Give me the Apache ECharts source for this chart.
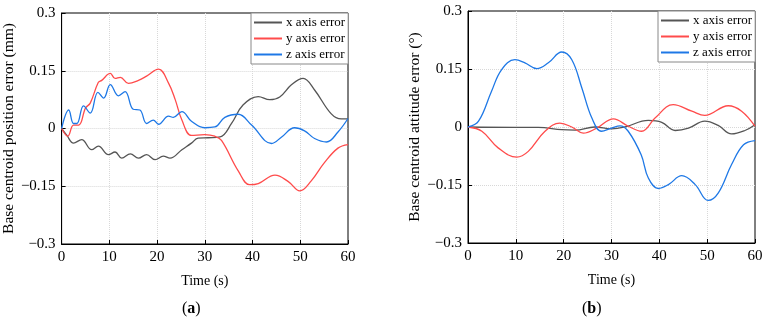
<!DOCTYPE html>
<html>
<head>
<meta charset="utf-8">
<script src="https://cdn.jsdelivr.net/npm/echarts@6/dist/echarts.min.js"></script>
<style>
  html, body { margin: 0; padding: 0; background: #fff; }
  #chart { width: 767px; height: 326px; }
</style>
</head>
<body>
<div id="chart"></div>
<script>
  // (a) base centroid position error (mm)
  const posXTime = [0, 1.1, 2.5, 4.2, 6.3, 7.7, 9.8, 11.2, 12.6, 14.4, 16.1, 17.8, 19.6, 21.3, 22.7, 25.2, 27.2, 28.6, 30.7, 33.2, 35.6, 38, 41.2, 43.6, 45.7, 48.2, 50.6, 53, 56.5, 58.6, 60];
  const posXErr = [0, -0.018, -0.038, -0.029, -0.055, -0.046, -0.068, -0.061, -0.077, -0.066, -0.077, -0.068, -0.081, -0.072, -0.077, -0.055, -0.038, -0.025, -0.024, -0.022, 0.013, 0.061, 0.083, 0.075, 0.082, 0.114, 0.13, 0.1, 0.038, 0.025, 0.025];
  const posYTime = [0, 1.3, 2.5, 3.6, 5, 6, 7.7, 8.4, 10.2, 11.2, 12.3, 14, 16.1, 17.8, 20.3, 22.4, 23.8, 25.2, 27.2, 30, 32.1, 33.5, 37, 39.4, 41.2, 44.7, 47.5, 49.9, 52.3, 55.1, 57.9, 60];
  const posYErr = [0, -0.02, 0.009, 0.009, 0.053, 0.066, 0.12, 0.125, 0.143, 0.13, 0.133, 0.117, 0.125, 0.136, 0.154, 0.118, 0.075, 0.022, -0.018, -0.016, -0.02, -0.031, -0.11, -0.146, -0.143, -0.121, -0.138, -0.162, -0.136, -0.088, -0.051, -0.042];
  const posZTime = [0, 1.5, 2.5, 3.2, 4.6, 6, 7.6, 8.8, 10.2, 11.9, 13.3, 15, 16.4, 17.8, 19.2, 20.3, 22.4, 23.4, 25.2, 27.2, 30, 32.1, 34.2, 37, 39.8, 44, 46.1, 48.8, 50.9, 53, 55.5, 57.9, 60];
  const posZErr = [0, 0.048, 0.013, 0.013, 0.059, 0.04, 0.094, 0.079, 0.114, 0.085, 0.096, 0.05, 0.048, 0.013, 0.022, 0.011, 0.032, 0.029, 0.044, 0.019, 0.002, 0.004, 0.029, 0.037, 0.009, -0.039, -0.022, 0.002, -0.006, -0.026, -0.035, -0.009, 0.026];

  // (b) base centroid attitude error (deg)
  const attXTime = [0, 9.8, 14.7, 19.6, 22.4, 26.5, 30, 32.8, 37.7, 40.5, 43.3, 46.1, 49.5, 52.3, 55.1, 57.9, 60];
  const attXErr = [0, -0.001, -0.001, -0.007, -0.008, 0, -0.005, 0, 0.017, 0.012, -0.009, -0.003, 0.015, 0.004, -0.018, -0.009, 0.006];
  const attYTime = [0, 2.9, 6.3, 10.2, 12.6, 16.1, 19.2, 21.7, 24.1, 26.9, 30.4, 33.5, 36.3, 39.1, 42.9, 46.8, 49.5, 54.4, 57.2, 60];
  const attYErr = [0, -0.011, -0.054, -0.078, -0.063, -0.011, 0.01, 0, -0.016, -0.003, 0.021, 0.002, -0.011, 0.023, 0.058, 0.041, 0.03, 0.055, 0.041, 0.002];
  const attZTime = [0, 2.2, 4.9, 7, 9.8, 11.9, 14.4, 16.8, 19.6, 21.7, 23.8, 25.9, 27.9, 30, 31.8, 33.5, 36.2, 37.7, 39.8, 41.9, 44.7, 47.5, 50.2, 52.3, 55.1, 57.6, 60];
  const attZErr = [0, 0.015, 0.092, 0.148, 0.174, 0.166, 0.151, 0.166, 0.194, 0.174, 0.101, 0.023, -0.011, -0.003, 0.003, -0.011, -0.072, -0.132, -0.159, -0.149, -0.126, -0.149, -0.19, -0.171, -0.097, -0.046, -0.035];

  const seriesNames = ['x axis error', 'y axis error', 'z axis error'];
  const timeTicks = [0, 10, 20, 30, 40, 50, 60];
  const errTicks = [-0.3, -0.15, 0, 0.15, 0.3];
  const yNames = ['Base centroid position error (mm)', 'Base centroid attitude error (\u00b0)'];

  const FONT = 'Liberation Serif';
  const colors = ['#555555', '#ff4b4b', '#1e78e6'];

  function pairs(ts, vs) {
    return ts.map(function (t, i) { return [t, vs[i]]; });
  }

  let myChart = echarts.init(document.getElementById('chart'));

  function xAxisOf(idx) {
    return {
      type: 'value',
      gridIndex: idx,
      min: timeTicks[0],
      max: timeTicks[timeTicks.length - 1],
      interval: timeTicks[1] - timeTicks[0],
      name: 'Time (s)',
      nameLocation: 'middle',
      nameGap: 30,
      nameTextStyle: { color: '#000', fontFamily: FONT, fontSize: 14 },
      axisLine: { onZero: false, lineStyle: { color: '#000', width: 1 } },
      axisTick: { inside: true, length: 4, lineStyle: { color: '#000' } },
      axisLabel: { color: '#000', fontFamily: FONT, fontSize: 15, margin: 6 },
      splitLine: { show: true, showMinLine: false, showMaxLine: false, lineStyle: { color: '#d8d8d8', type: 'dotted' } }
    };
  }

  function yAxisOf(idx) {
    return {
      type: 'value',
      gridIndex: idx,
      min: errTicks[0],
      max: errTicks[errTicks.length - 1],
      interval: errTicks[1] - errTicks[0],
      name: yNames[idx],
      nameLocation: 'middle',
      nameGap: 42,
      nameTextStyle: { color: '#000', fontFamily: FONT, fontSize: 15.5 },
      axisLine: { onZero: false, lineStyle: { color: '#000', width: 1 } },
      axisTick: { inside: true, length: 4, lineStyle: { color: '#000' } },
      axisLabel: {
        color: '#000', fontFamily: FONT, fontSize: 15, margin: 6,
        formatter: function (v) {
          let r = Math.round(v * 100) / 100;
          return r < 0 ? '\u2212' + Math.abs(r) : String(r);
        }
      },
      splitLine: { show: true, showMinLine: false, showMaxLine: false, lineStyle: { color: '#d8d8d8', type: 'dotted' } }
    };
  }

  function lineOf(name, idx, data, color) {
    return {
      name: name,
      type: 'line',
      xAxisIndex: idx,
      yAxisIndex: idx,
      data: data,
      smooth: 0.4,
      symbol: 'none',
      lineStyle: { color: color, width: 1.3 },
      itemStyle: { color: color }
    };
  }

  function legendOf(left, top) {
    return {
      data: seriesNames,
      orient: 'vertical',
      left: left,
      top: top,
      icon: 'rect',
      itemWidth: 28,
      itemHeight: 2,
      itemGap: 3,
      padding: [3, 3, 3, 3],
      borderColor: '#888',
      borderWidth: 1,
      borderRadius: 0,
      backgroundColor: '#fff',
      textStyle: { color: '#000', fontFamily: FONT, fontSize: 13, padding: [0, 0, 0, -1] }
    };
  }

  let option = {
    animation: false,
    backgroundColor: '#fff',
    title: [
      {
        text: '({b|a})', left: 177, top: 296,
        textStyle: { color: '#000', fontFamily: FONT, fontSize: 16, fontWeight: 'normal',
          rich: { b: { fontFamily: FONT, fontSize: 16, fontWeight: 'bold', color: '#000' } } }
      },
      {
        text: '({b|b})', left: 577, top: 296,
        textStyle: { color: '#000', fontFamily: FONT, fontSize: 16, fontWeight: 'normal',
          rich: { b: { fontFamily: FONT, fontSize: 16, fontWeight: 'bold', color: '#000' } } }
      }
    ],
    legend: [legendOf(251, 13), legendOf(658, 11)],
    grid: [
      { left: 61, top: 13, width: 287, height: 231, show: true, borderColor: '#000', borderWidth: 1 },
      { left: 468, top: 11, width: 287, height: 232, show: true, borderColor: '#000', borderWidth: 1 }
    ],
    xAxis: [xAxisOf(0), xAxisOf(1)],
    yAxis: [yAxisOf(0), yAxisOf(1)],
    series: [
      lineOf(seriesNames[0], 0, pairs(posXTime, posXErr), colors[0]),
      lineOf(seriesNames[1], 0, pairs(posYTime, posYErr), colors[1]),
      lineOf(seriesNames[2], 0, pairs(posZTime, posZErr), colors[2]),
      lineOf(seriesNames[0], 1, pairs(attXTime, attXErr), colors[0]),
      lineOf(seriesNames[1], 1, pairs(attYTime, attYErr), colors[1]),
      lineOf(seriesNames[2], 1, pairs(attZTime, attZErr), colors[2])
    ]
  };
  myChart.setOption(option);
</script>
</body>
</html>
